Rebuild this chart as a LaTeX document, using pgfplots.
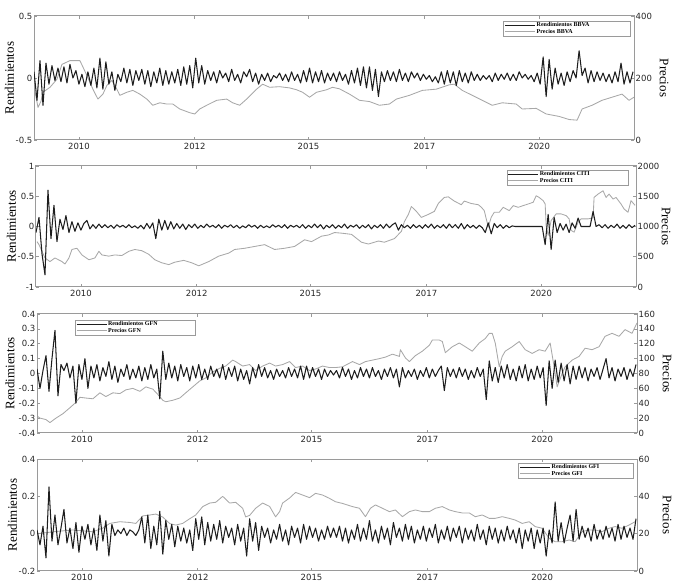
\documentclass[border=0pt]{standalone}
\usepackage{fontspec}
\setmainfont{Liberation Serif}
\newfontfamily\tickfont{DejaVu Sans}
\usepackage{pgfplots}
\usepackage{pgfplotstable}
\pgfplotsset{compat=1.18}

\definecolor{retc}{HTML}{1E1E1E}
\definecolor{prc}{HTML}{A8A8A8}
\definecolor{framec}{HTML}{9A9A9A}

% ---------------- Returns (y values, evenly spaced in x) ----------------
\pgfplotstableread[row sep=\\]{
r\\
0.05\\ -0.18\\ 0.14\\ -0.22\\ 0.12\\ -0.05\\ 0.10\\ -0.02\\ 0.08\\ -0.03\\
0.09\\ -0.04\\ 0.11\\ 0.00\\ 0.06\\ -0.05\\ 0.03\\ -0.07\\ 0.05\\ -0.06\\
0.08\\ -0.08\\ 0.16\\ -0.09\\ 0.13\\ -0.05\\ 0.05\\ -0.10\\ 0.03\\ -0.03\\
0.08\\ -0.04\\ 0.07\\ -0.06\\ 0.06\\ -0.02\\ 0.07\\ -0.05\\ 0.06\\ -0.07\\
0.05\\ -0.04\\ 0.08\\ -0.06\\ 0.06\\ -0.05\\ 0.05\\ -0.04\\ 0.07\\ -0.06\\
0.09\\ -0.05\\ 0.10\\ -0.08\\ 0.16\\ -0.04\\ 0.10\\ -0.05\\ 0.06\\ -0.02\\
0.05\\ -0.04\\ 0.06\\ 0.00\\ 0.04\\ -0.03\\ 0.07\\ -0.02\\ 0.03\\ -0.04\\
0.05\\ 0.01\\ 0.07\\ -0.03\\ 0.04\\ -0.05\\ 0.03\\ -0.02\\ 0.04\\ -0.03\\
0.02\\ 0.00\\ 0.04\\ -0.02\\ 0.03\\ -0.03\\ 0.05\\ -0.02\\ 0.03\\ -0.04\\
0.06\\ -0.03\\ 0.08\\ -0.04\\ 0.05\\ -0.03\\ 0.06\\ -0.04\\ 0.04\\ -0.02\\
0.04\\ -0.03\\ 0.05\\ -0.02\\ 0.03\\ -0.05\\ 0.06\\ -0.04\\ 0.08\\ -0.06\\
0.09\\ -0.08\\ 0.09\\ -0.10\\ 0.07\\ -0.15\\ 0.05\\ -0.03\\ 0.06\\ -0.02\\
0.05\\ -0.03\\ 0.07\\ -0.02\\ 0.04\\ -0.03\\ 0.05\\ 0.00\\ 0.04\\ -0.02\\
0.03\\ -0.01\\ 0.02\\ -0.03\\ 0.01\\ -0.04\\ 0.05\\ -0.05\\ 0.06\\ -0.04\\
0.05\\ -0.06\\ 0.06\\ -0.03\\ 0.04\\ -0.04\\ 0.05\\ -0.02\\ 0.03\\ -0.02\\
0.02\\ -0.01\\ 0.02\\ -0.03\\ 0.04\\ -0.02\\ 0.03\\ -0.01\\ 0.04\\ -0.02\\
0.03\\ -0.02\\ 0.05\\ 0.00\\ 0.03\\ -0.01\\ 0.02\\ -0.03\\ 0.04\\ -0.05\\
0.17\\ -0.15\\ 0.15\\ -0.09\\ 0.08\\ -0.05\\ 0.04\\ -0.06\\ 0.05\\ -0.03\\
0.06\\ 0.00\\ 0.22\\ 0.02\\ 0.08\\ -0.04\\ 0.06\\ -0.03\\ 0.05\\ -0.02\\
0.04\\ -0.03\\ 0.03\\ -0.04\\ 0.05\\ -0.03\\ 0.12\\ -0.05\\ 0.05\\ -0.04\\ 0.05\\
}\retBBVA

\pgfplotstableread[row sep=\\]{
r\\
-0.10\\ 0.15\\ -0.45\\ -0.80\\ 0.60\\ -0.20\\ 0.35\\ -0.25\\ 0.12\\ -0.05\\
0.18\\ -0.10\\ 0.08\\ -0.08\\ 0.06\\ -0.06\\ 0.05\\ 0.10\\ -0.04\\ 0.03\\
-0.03\\ 0.04\\ -0.02\\ 0.03\\ -0.02\\ 0.02\\ -0.03\\ 0.03\\ -0.01\\ 0.02\\
-0.02\\ 0.03\\ -0.02\\ 0.01\\ -0.03\\ 0.02\\ -0.04\\ 0.05\\ -0.03\\ 0.06\\
-0.20\\ 0.12\\ -0.06\\ 0.10\\ -0.05\\ 0.08\\ -0.04\\ 0.05\\ -0.03\\ 0.04\\
-0.05\\ 0.03\\ -0.02\\ 0.04\\ -0.03\\ 0.02\\ -0.02\\ 0.04\\ -0.01\\ 0.02\\
-0.02\\ 0.03\\ -0.03\\ 0.02\\ -0.01\\ 0.03\\ -0.02\\ 0.02\\ -0.03\\ 0.01\\
-0.02\\ 0.03\\ -0.01\\ 0.02\\ -0.03\\ 0.02\\ -0.02\\ 0.01\\ -0.02\\ 0.03\\
-0.01\\ 0.02\\ -0.02\\ 0.03\\ -0.03\\ 0.02\\ -0.01\\ 0.02\\ -0.02\\ 0.03\\
-0.03\\ 0.02\\ -0.02\\ 0.04\\ -0.02\\ 0.03\\ -0.04\\ 0.02\\ -0.02\\ 0.03\\
-0.03\\ 0.02\\ -0.02\\ 0.04\\ -0.03\\ 0.02\\ -0.01\\ 0.03\\ -0.03\\ 0.02\\
-0.02\\ 0.03\\ -0.04\\ 0.02\\ -0.02\\ 0.03\\ -0.03\\ 0.04\\ -0.02\\ 0.03\\
0.06\\ -0.06\\ 0.03\\ -0.02\\ 0.02\\ -0.03\\ 0.03\\ -0.02\\ 0.02\\ -0.03\\
0.03\\ -0.02\\ 0.04\\ -0.03\\ 0.02\\ -0.02\\ 0.03\\ -0.03\\ 0.04\\ -0.02\\
0.03\\ -0.03\\ 0.05\\ -0.04\\ 0.03\\ -0.02\\ 0.02\\ -0.03\\ 0.02\\ -0.02\\
-0.10\\ 0.06\\ -0.12\\ 0.05\\ -0.02\\ 0.03\\ -0.03\\ 0.02\\ -0.02\\ 0.01\\
0.00\\ 0.00\\ 0.00\\ 0.00\\ 0.00\\ 0.00\\ 0.00\\ 0.00\\ 0.00\\ 0.00\\
-0.30\\ 0.20\\ -0.38\\ 0.15\\ -0.10\\ 0.05\\ -0.06\\ 0.04\\ -0.10\\ 0.06\\
-0.03\\ 0.14\\ 0.00\\ 0.00\\ 0.00\\ 0.00\\ 0.25\\ 0.00\\ 0.03\\ -0.02\\
0.03\\ -0.03\\ 0.02\\ -0.02\\ 0.04\\ -0.03\\ 0.02\\ -0.03\\ 0.03\\ -0.02\\ 0.02\\
}\retCITI

\pgfplotstableread[row sep=\\]{
r\\
0.03\\ -0.10\\ 0.02\\ 0.12\\ -0.12\\ 0.10\\ 0.29\\ -0.15\\ 0.06\\ 0.02\\
0.07\\ -0.03\\ 0.05\\ -0.20\\ 0.06\\ -0.04\\ 0.10\\ -0.10\\ 0.05\\ -0.03\\
0.06\\ -0.05\\ 0.04\\ -0.02\\ 0.08\\ -0.04\\ 0.05\\ -0.06\\ 0.03\\ -0.02\\
0.06\\ -0.04\\ 0.03\\ -0.03\\ 0.05\\ -0.05\\ 0.04\\ -0.04\\ 0.06\\ -0.03\\
0.03\\ -0.17\\ 0.15\\ -0.04\\ 0.07\\ -0.03\\ 0.05\\ -0.05\\ 0.06\\ -0.02\\
0.04\\ -0.05\\ 0.05\\ -0.03\\ 0.06\\ -0.04\\ 0.03\\ -0.04\\ 0.05\\ -0.02\\
0.03\\ -0.03\\ 0.06\\ -0.04\\ 0.04\\ -0.02\\ 0.05\\ -0.05\\ 0.03\\ -0.04\\
0.02\\ -0.07\\ 0.04\\ -0.03\\ 0.06\\ -0.02\\ 0.04\\ -0.03\\ 0.02\\ -0.04\\
0.03\\ -0.02\\ 0.02\\ -0.03\\ 0.04\\ -0.02\\ 0.03\\ -0.03\\ 0.05\\ -0.04\\
0.05\\ -0.03\\ 0.04\\ -0.02\\ 0.03\\ -0.04\\ 0.03\\ -0.02\\ 0.02\\ -0.01\\
0.02\\ -0.03\\ 0.04\\ -0.02\\ 0.03\\ -0.04\\ 0.02\\ -0.03\\ 0.04\\ -0.02\\
0.03\\ -0.03\\ 0.04\\ -0.02\\ 0.02\\ -0.04\\ 0.03\\ -0.02\\ 0.04\\ -0.03\\
0.03\\ -0.09\\ 0.04\\ -0.03\\ 0.02\\ -0.02\\ 0.03\\ -0.04\\ 0.02\\ -0.02\\
0.04\\ -0.03\\ 0.03\\ -0.02\\ 0.02\\ 0.05\\ -0.115\\ 0.04\\ -0.02\\ 0.03\\
-0.03\\ 0.04\\ -0.02\\ 0.03\\ -0.04\\ 0.02\\ -0.03\\ 0.04\\ -0.02\\ 0.03\\
-0.175\\ 0.085\\ -0.05\\ 0.04\\ -0.06\\ 0.05\\ -0.03\\ 0.06\\ -0.04\\ 0.03\\
-0.05\\ 0.05\\ -0.03\\ 0.06\\ -0.05\\ 0.03\\ -0.04\\ 0.05\\ -0.03\\ 0.04\\
-0.215\\ 0.085\\ -0.10\\ 0.09\\ -0.06\\ 0.07\\ -0.05\\ 0.06\\ -0.07\\ 0.05\\
-0.04\\ 0.05\\ -0.03\\ 0.04\\ -0.05\\ 0.03\\ -0.02\\ 0.04\\ -0.04\\ 0.03\\
0.10\\ -0.03\\ 0.04\\ -0.05\\ 0.03\\ -0.02\\ 0.04\\ -0.04\\ 0.03\\ -0.02\\ 0.06\\
}\retGFN

\pgfplotstableread[row sep=\\]{
r\\
0.02\\ -0.06\\ 0.04\\ -0.13\\ 0.25\\ -0.04\\ 0.10\\ -0.06\\ 0.03\\ 0.13\\
-0.05\\ 0.03\\ -0.08\\ 0.06\\ -0.10\\ 0.04\\ -0.03\\ 0.05\\ -0.06\\ 0.03\\
-0.09\\ 0.10\\ -0.04\\ 0.07\\ -0.12\\ 0.05\\ -0.01\\ 0.02\\ 0.00\\ 0.03\\
-0.01\\ 0.02\\ 0.01\\ -0.01\\ 0.02\\ 0.09\\ -0.05\\ 0.10\\ -0.08\\ 0.04\\
-0.06\\ 0.12\\ -0.11\\ 0.07\\ -0.03\\ 0.05\\ -0.07\\ 0.04\\ -0.04\\ 0.03\\
-0.05\\ 0.02\\ -0.09\\ 0.08\\ -0.03\\ 0.09\\ -0.06\\ 0.06\\ -0.04\\ 0.05\\
-0.03\\ 0.07\\ -0.05\\ 0.04\\ -0.02\\ 0.03\\ -0.06\\ 0.05\\ -0.04\\ 0.03\\
-0.12\\ 0.08\\ -0.04\\ 0.06\\ -0.09\\ 0.04\\ -0.02\\ 0.03\\ -0.05\\ 0.02\\
-0.03\\ 0.05\\ -0.04\\ 0.02\\ -0.06\\ 0.04\\ -0.02\\ 0.03\\ -0.05\\ 0.05\\
-0.03\\ 0.04\\ -0.02\\ 0.03\\ -0.04\\ 0.02\\ -0.03\\ 0.04\\ -0.02\\ 0.03\\
-0.02\\ 0.04\\ -0.04\\ 0.03\\ -0.05\\ 0.02\\ -0.03\\ 0.05\\ -0.04\\ 0.03\\
-0.03\\ 0.07\\ -0.04\\ 0.02\\ -0.05\\ 0.04\\ -0.03\\ 0.03\\ -0.06\\ 0.06\\
-0.02\\ 0.03\\ -0.04\\ 0.05\\ -0.03\\ 0.04\\ -0.05\\ 0.02\\ -0.03\\ 0.04\\
-0.04\\ 0.03\\ -0.02\\ 0.05\\ -0.05\\ 0.02\\ -0.03\\ 0.04\\ -0.04\\ 0.03\\
-0.02\\ 0.04\\ -0.05\\ 0.03\\ -0.03\\ 0.02\\ -0.04\\ 0.05\\ -0.03\\ 0.02\\
-0.06\\ 0.04\\ -0.03\\ 0.03\\ -0.05\\ 0.02\\ -0.04\\ 0.04\\ -0.03\\ 0.02\\
-0.05\\ 0.03\\ -0.08\\ 0.02\\ -0.04\\ 0.03\\ -0.08\\ 0.02\\ -0.05\\ 0.03\\
-0.12\\ 0.02\\ -0.05\\ 0.17\\ -0.04\\ 0.06\\ -0.05\\ 0.03\\ 0.10\\ -0.04\\
0.13\\ -0.03\\ 0.04\\ -0.02\\ 0.03\\ -0.04\\ 0.05\\ -0.03\\ 0.02\\ -0.03\\
0.04\\ -0.02\\ 0.03\\ -0.04\\ 0.05\\ -0.03\\ 0.04\\ -0.02\\ 0.03\\ -0.03\\ 0.08\\
}\retGFI

% ---------------- Prices (x position, price) ----------------
\pgfplotstableread[row sep=\\]{
x p\\
34 170\\ 36 140\\ 38 105\\ 41 125\\ 43 154\\ 50 170\\ 57 196\\ 62 244\\ 70 256\\ 80 256\\
87 208\\ 93 164\\ 98 132\\ 103 148\\ 107 176\\ 112 192\\ 117 164\\ 120 144\\ 127 154\\ 133 160\\
140 148\\ 147 132\\ 153 112\\ 160 120\\ 167 116\\ 173 116\\ 180 100\\ 190 88\\ 195 84\\ 200 100\\
207 112\\ 217 128\\ 227 132\\ 233 120\\ 240 112\\ 247 132\\ 257 164\\ 263 180\\ 270 170\\ 280 172\\
290 168\\ 297 162\\ 303 154\\ 310 138\\ 317 154\\ 327 162\\ 333 170\\ 340 165\\ 350 148\\ 360 128\\
370 124\\ 380 112\\ 390 116\\ 397 132\\ 410 144\\ 423 160\\ 437 164\\ 450 178\\ 455 180\\ 463 160\\
473 144\\ 483 128\\ 493 112\\ 503 120\\ 517 116\\ 523 100\\ 537 102\\ 547 84\\ 560 76\\ 570 66\\
578 64\\ 583 100\\ 593 112\\ 603 128\\ 613 138\\ 623 148\\ 630 128\\ 635 138\\
}\prBBVA

\pgfplotstableread[row sep=\\]{
x p\\
35 750\\ 37 700\\ 43 480\\ 48 420\\ 53 480\\ 60 420\\ 63 380\\ 67 480\\ 70 620\\ 75 640\\
80 530\\ 87 450\\ 93 480\\ 97 590\\ 100 530\\ 107 510\\ 113 530\\ 120 520\\ 127 590\\ 133 620\\
140 600\\ 147 540\\ 153 450\\ 160 400\\ 167 370\\ 173 410\\ 182 440\\ 190 400\\ 197 350\\ 207 420\\
217 510\\ 227 560\\ 233 620\\ 243 640\\ 253 670\\ 263 700\\ 273 620\\ 283 640\\ 293 670\\ 303 780\\
310 750\\ 320 840\\ 327 860\\ 333 900\\ 340 890\\ 350 870\\ 360 740\\ 367 710\\ 377 760\\ 383 740\\
393 800\\ 400 920\\ 403 1080\\ 407 1200\\ 410 1330\\ 415 1250\\ 420 1150\\ 427 1200\\ 433 1250\\ 437 1380\\
443 1480\\ 447 1490\\ 453 1420\\ 460 1360\\ 463 1420\\ 470 1380\\ 477 1360\\ 480 1320\\ 483 1262\\ 487 990\\
490 1153\\ 493 1235\\ 498 1235\\ 502 1317\\ 505 1290\\ 508 1262\\ 512 1345\\ 517 1317\\ 522 1345\\ 527 1372\\
532 1400\\ 535 1508\\ 538 1480\\ 542 1427\\ 544 1372\\ 545 1016\\ 547 853\\ 550 1098\\ 555 1208\\ 560 1208\\
565 1180\\ 568 1126\\ 570 935\\ 573 907\\ 577 1071\\ 580 1126\\ 587 1126\\ 592 1142\\ 593 1481\\ 597 1536\\
602 1590\\ 605 1480\\ 608 1536\\ 612 1454\\ 615 1480\\ 620 1372\\ 623 1290\\ 627 1235\\ 630 1427\\ 634 1350\\
}\prCITI

\pgfplotstableread[row sep=\\]{
x p\\
35 22\\ 37 20\\ 43 18\\ 47 14\\ 53 20\\ 60 26\\ 67 34\\ 72 40\\ 77 48\\ 83 47\\
90 46\\ 97 54\\ 103 49\\ 110 54\\ 117 53\\ 123 58\\ 130 60\\ 137 56\\ 143 62\\ 150 59\\
157 49\\ 160 44\\ 163 42\\ 170 44\\ 177 47\\ 183 54\\ 190 62\\ 197 70\\ 203 74\\ 210 82\\
217 87\\ 223 90\\ 230 98\\ 233 96\\ 240 90\\ 247 92\\ 253 84\\ 260 90\\ 267 94\\ 273 90\\
280 92\\ 287 96\\ 293 88\\ 300 90\\ 307 84\\ 313 86\\ 320 90\\ 327 88\\ 333 88\\ 340 89\\
350 96\\ 357 92\\ 363 96\\ 370 98\\ 377 100\\ 383 102\\ 390 106\\ 397 103\\ 398 112\\ 403 101\\
407 96\\ 413 104\\ 420 110\\ 427 118\\ 430 125\\ 437 125\\ 440 123\\ 443 108\\ 450 116\\ 457 121\\
463 116\\ 470 110\\ 477 121\\ 483 127\\ 487 134\\ 490 134\\ 493 121\\ 497 89\\ 500 103\\ 503 110\\
510 116\\ 517 123\\ 523 112\\ 530 107\\ 537 112\\ 543 110\\ 548 121\\ 552 89\\ 555 62\\ 560 80\\
563 89\\ 570 98\\ 577 103\\ 583 114\\ 590 112\\ 597 116\\ 603 130\\ 610 134\\ 617 130\\ 623 139\\
630 134\\ 635 148\\
}\prGFN

\pgfplotstableread[row sep=\\]{
x p\\
35 20\\ 50 21\\ 70 22\\ 90 21\\ 100 23\\ 107 25.5\\ 117 26.4\\ 127 26\\ 133 25.5\\ 140 29.5\\
147 30\\ 153 30.5\\ 160 28.9\\ 167 25.4\\ 173 24.6\\ 180 25.5\\ 187 28\\ 193 30\\ 200 34.5\\ 207 36.4\\
213 36.8\\ 220 40\\ 227 36.4\\ 233 36.8\\ 240 33.6\\ 243 29\\ 247 29.8\\ 253 33.6\\ 260 36.4\\ 267 34.6\\
273 29\\ 277 31.8\\ 280 36.4\\ 287 39.1\\ 293 42.1\\ 300 40.7\\ 307 39.3\\ 313 41.6\\ 320 40.7\\ 327 38.9\\
333 37.1\\ 340 36.2\\ 350 34.5\\ 357 33.6\\ 363 29.1\\ 368 33.6\\ 373 35.4\\ 380 33.6\\ 387 31.8\\ 393 32.7\\
400 29.1\\ 407 31.8\\ 413 32.7\\ 420 31.8\\ 427 31.8\\ 433 33.6\\ 440 34.5\\ 447 32.7\\ 453 31.8\\ 460 31.1\\
467 31.1\\ 473 29.1\\ 480 30\\ 487 28.2\\ 493 28.2\\ 500 29.1\\ 507 28.2\\ 513 27.3\\ 520 25.5\\ 527 26.4\\
533 23.8\\ 540 22.9\\ 547 17.5\\ 553 15.7\\ 560 15.7\\ 567 16.6\\ 573 15.7\\ 580 21.1\\ 587 22\\ 593 22\\
600 21.1\\ 607 22.9\\ 613 23.8\\ 620 22.9\\ 627 24.6\\ 633 26.4\\
}\prGFI

\pgfplotsset{
  base/.style={
    scale only axis, width=600pt,
    xmin=34, xmax=635,
    tick align=inside,
    major tick length=3pt,
    tick style={framec, line width=0.6pt},
    axis line style={framec, line width=1pt},
    tick label style={font=\tickfont\fontsize{8.5}{9.5}\selectfont, text=black!85},
    yticklabel style={inner xsep=1.5pt},
    /pgf/number format/assume math mode=true,
    /pgf/number format/1000 sep={},
    label style={font=\fontsize{13}{14}\selectfont},
  },
  retax/.style={
    base,
    xtick={79,195,309,425,540},
    xticklabels={2010,2012,2015,2017,2020},
    xtick pos=both, ytick pos=left,
    ylabel={Rendimientos},
    ylabel style={at={(axis description cs:-0.041,0.5)}, anchor=center},
    legend cell align=left,
    legend style={draw=framec, line width=0.6pt, fill=white,
      font=\bfseries\fontsize{6}{6.5}\selectfont,
      inner xsep=1pt, inner ysep=0.5pt, row sep=-1.5pt,
      nodes={inner sep=1pt}},
    legend image code/.code={\draw[#1] (0pt,0pt) -- (30pt,0pt);},
  },
  prax/.style={
    base,
    axis x line=none, axis y line*=right,
    ylabel={Precios},
    ylabel style={at={(axis description cs:1.05,0.5)}, anchor=center, rotate=180},
  },
  rline/.style={color=retc, line width=1.05pt, line join=round},
  pline/.style={color=prc, line width=0.85pt, line join=round},
}

\begin{document}
\begin{tikzpicture}
\useasboundingbox (0pt,0pt) rectangle (674pt,588pt);

% ---------- Panel 1: BBVA ----------
\begin{axis}[prax, at={(34pt,448pt)}, anchor=south west, height=124pt,
  ymin=0, ymax=400, ytick={0,200,400}]
  \addplot[pline] table[x=x, y=p] {\prBBVA};
\end{axis}
\begin{axis}[retax, at={(34pt,448pt)}, anchor=south west, height=124pt,
  ymin=-0.5, ymax=0.5, ytick={-0.5,0,0.5},
  legend style={at={(axis description cs:0.995,0.96)}, anchor=north east}]
  \addplot[rline] table[x expr=34+3*\coordindex, y=r] {\retBBVA};
  \addlegendentry{\makebox[92pt][l]{Rendimientos BBVA}}
  \addlegendimage{pline}
  \addlegendentry{\makebox[92pt][l]{Precios BBVA}}
\end{axis}

% ---------- Panel 2: CITI ----------
\begin{axis}[prax, at={(36pt,301pt)}, anchor=south west, height=121pt,
  ymin=0, ymax=2000, ytick={0,500,1000,1500,2000}]
  \addplot[pline] table[x=x, y=p] {\prCITI};
\end{axis}
\begin{axis}[retax, at={(36pt,301pt)}, anchor=south west, height=121pt,
  ymin=-1, ymax=1, ytick={-1,-0.5,0,0.5,1},
  legend style={at={(axis description cs:0.987,0.967)}, anchor=north east}]
  \addplot[rline] table[x expr=34+3*\coordindex, y=r] {\retCITI};
  \addlegendentry{\makebox[86pt][l]{Rendimientos CITI}}
  \addlegendimage{pline}
  \addlegendentry{\makebox[86pt][l]{Precios CITI}}
\end{axis}

% ---------- Panel 3: GFN ----------
\begin{axis}[prax, at={(37pt,155pt)}, anchor=south west, height=119pt,
  ymin=0, ymax=160, ytick={0,20,...,160}]
  \addplot[pline] table[x=x, y=p] {\prGFN};
\end{axis}
\begin{axis}[retax, at={(37pt,155pt)}, anchor=south west, height=119pt,
  ymin=-0.4, ymax=0.4, ytick={-0.4,-0.3,-0.2,-0.1,0,0.1,0.2,0.3,0.4},
  ylabel style={at={(axis description cs:-0.045,0.5)}},
  legend style={at={(axis description cs:0.063,0.95)}, anchor=north west}]
  \addplot[rline] table[x expr=34+3*\coordindex, y=r] {\retGFN};
  \addlegendentry{\makebox[85pt][l]{Rendimientos GFN}}
  \addlegendimage{pline}
  \addlegendentry{\makebox[85pt][l]{Precios GFN}}
\end{axis}

% ---------- Panel 4: GFI ----------
\begin{axis}[prax, at={(37pt,17pt)}, anchor=south west, height=112pt,
  ymin=0, ymax=60, ytick={0,20,40,60}]
  \addplot[pline] table[x=x, y=p] {\prGFI};
\end{axis}
\begin{axis}[retax, at={(37pt,17pt)}, anchor=south west, height=112pt,
  ymin=-0.2, ymax=0.4, ytick={-0.2,0,0.2,0.4},
  legend style={at={(axis description cs:0.995,0.964)}, anchor=north east}]
  \addplot[rline] table[x expr=34+3*\coordindex, y=r] {\retGFI};
  \addlegendentry{\makebox[80pt][l]{Rendimientos GFI}}
  \addlegendimage{pline}
  \addlegendentry{\makebox[80pt][l]{Precios GFI}}
\end{axis}
\end{tikzpicture}
\end{document}
